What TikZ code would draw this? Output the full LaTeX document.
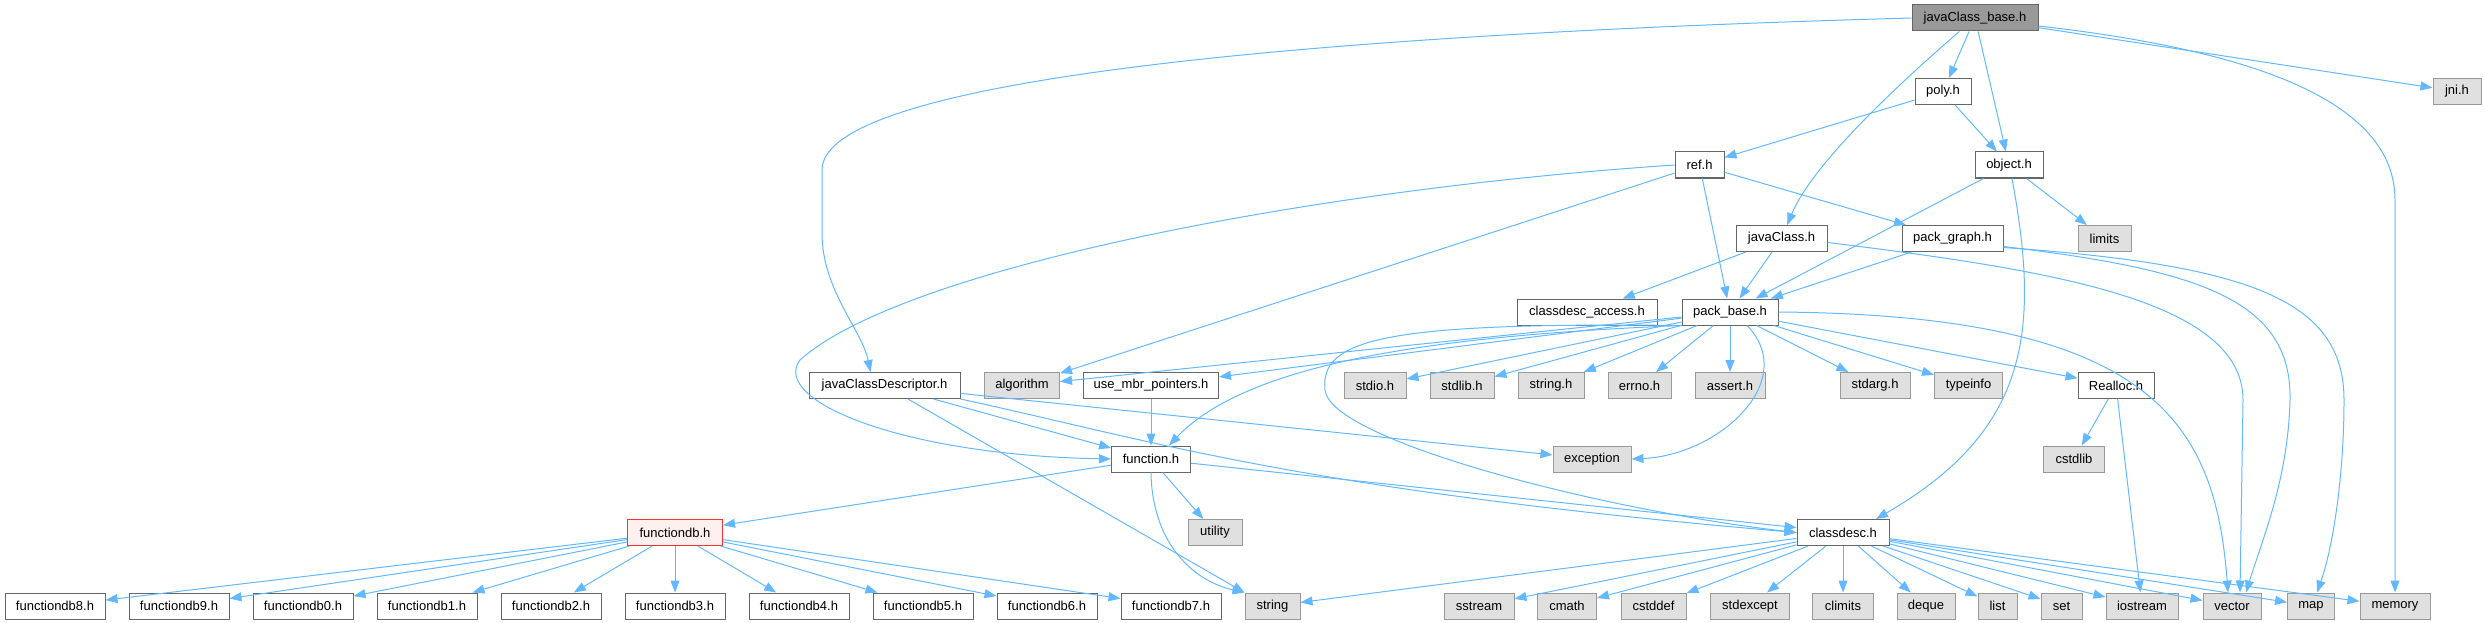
\documentclass[tikz,border=0pt]{standalone}
\usepackage{fontspec}
\setmainfont{Liberation Sans}
\usetikzlibrary{arrows.meta}
\definecolor{edgeblue}{HTML}{63B8FF}
\definecolor{boxgray}{HTML}{666666}
\definecolor{sysgray}{HTML}{999999}
\definecolor{sysfill}{HTML}{E0E0E0}
\definecolor{rootfill}{HTML}{999999}
\definecolor{redline}{HTML}{FF3030}
\definecolor{redfill}{HTML}{FFF0F0}
\tikzset{
	filebox/.style={draw=boxgray, fill=white, line width=1pt, inner sep=0pt,
		minimum height=26pt, font=\fontsize{13}{15}\selectfont},
	sysbox/.style={filebox, draw=sysgray, fill=sysfill},
	rootbox/.style={filebox, fill=rootfill},
	redbox/.style={filebox, draw=redline, fill=redfill},
	incl/.style={draw=edgeblue, line width=1pt, -{Triangle[length=12pt,width=9pt]}}
}
\begin{document}
\begin{tikzpicture}[x=1pt,y=-1pt]
	\useasboundingbox (0,0) rectangle (2485,623);
	% top rows
	\node[rootbox, minimum width=126pt] (base) at (1975,18) {javaClass\_base.h};
	\node[filebox, minimum width=56pt] (poly) at (1943,91.5) {poly.h};
	\node[sysbox, minimum width=48pt] (jni) at (2457,91.5) {jni.h};
	\node[filebox, minimum width=49pt] (ref) at (1699.5,165) {ref.h};
	\node[filebox, minimum width=68pt] (object) at (2009,165) {object.h};
	\node[filebox, minimum width=91pt] (javaClass) at (1781.5,238.5) {javaClass.h};
	\node[filebox, minimum width=101pt] (packgraph) at (1952.5,238.5) {pack\_graph.h};
	\node[sysbox, minimum width=53pt] (limits) at (2104.5,238.5) {limits};
	\node[filebox, minimum width=140pt] (cdaccess) at (1587,312) {classdesc\_access.h};
	\node[filebox, minimum width=96pt] (packbase) at (1730,312) {pack\_base.h};
	% row of pack_base includes
	\node[filebox, minimum width=151pt] (jcdesc) at (884.5,385.5) {javaClassDescriptor.h};
	\node[sysbox, minimum width=75pt] (algorithm) at (1022,385.5) {algorithm};
	\node[filebox, minimum width=135pt] (usembr) at (1151,385.5) {use\_mbr\_pointers.h};
	\node[sysbox, minimum width=62pt] (stdio) at (1375,385.5) {stdio.h};
	\node[sysbox, minimum width=64pt] (stdlibh) at (1462,385.5) {stdlib.h};
	\node[sysbox, minimum width=66pt] (stringh) at (1551,385.5) {string.h};
	\node[sysbox, minimum width=63pt] (errno) at (1639.5,385.5) {errno.h};
	\node[sysbox, minimum width=70pt] (assert) at (1730,385.5) {assert.h};
	\node[sysbox, minimum width=70pt] (stdarg) at (1875,385.5) {stdarg.h};
	\node[sysbox, minimum width=68pt] (typeinfo) at (1968.5,385.5) {typeinfo};
	\node[filebox, minimum width=76pt] (realloc) at (2116,385.5) {Realloc.h};
	% middle rows
	\node[filebox, minimum width=79pt] (function) at (1151,459) {function.h};
	\node[sysbox, minimum width=78pt] (exception) at (1592,459) {exception};
	\node[sysbox, minimum width=61pt] (cstdlib) at (2074,459) {cstdlib};
	\node[redbox, minimum width=95pt] (functiondb) at (675,532.5) {functiondb.h};
	\node[sysbox, minimum width=54pt] (utility) at (1215,532.5) {utility};
	\node[filebox, minimum width=92pt] (classdesc) at (1843,532.5) {classdesc.h};
	% bottom row
	\node[filebox, minimum width=100pt] (db8) at (55,606) {functiondb8.h};
	\node[filebox, minimum width=100pt] (db9) at (179,606) {functiondb9.h};
	\node[filebox, minimum width=100pt] (db0) at (303,606) {functiondb0.h};
	\node[filebox, minimum width=100pt] (db1) at (427,606) {functiondb1.h};
	\node[filebox, minimum width=100pt] (db2) at (551,606) {functiondb2.h};
	\node[filebox, minimum width=100pt] (db3) at (675,606) {functiondb3.h};
	\node[filebox, minimum width=100pt] (db4) at (799,606) {functiondb4.h};
	\node[filebox, minimum width=100pt] (db5) at (923,606) {functiondb5.h};
	\node[filebox, minimum width=100pt] (db6) at (1047,606) {functiondb6.h};
	\node[filebox, minimum width=100pt] (db7) at (1171,606) {functiondb7.h};
	\node[sysbox, minimum width=55pt] (string) at (1272.5,606) {string};
	\node[sysbox, minimum width=70pt] (sstream) at (1479,606) {sstream};
	\node[sysbox, minimum width=59pt] (cmath) at (1567,606) {cmath};
	\node[sysbox, minimum width=65pt] (cstddef) at (1653.5,606) {cstddef};
	\node[sysbox, minimum width=79pt] (stdexcept) at (1750,606) {stdexcept};
	\node[sysbox, minimum width=61pt] (climits) at (1843,606) {climits};
	\node[sysbox, minimum width=58pt] (deque) at (1926,606) {deque};
	\node[sysbox, minimum width=39pt] (list) at (1997.5,606) {list};
	\node[sysbox, minimum width=41pt] (set) at (2061.5,606) {set};
	\node[sysbox, minimum width=72pt] (iostream) at (2142,606) {iostream};
	\node[sysbox, minimum width=58pt] (vector) at (2232,606) {vector};
	\node[sysbox, minimum width=47pt] (map) at (2311,606) {map};
	\node[sysbox, minimum width=70pt] (memory) at (2395,606) {memory};
	
	% javaClass_base.h
	\draw[incl] (base.west) .. controls (1300,35) and (822,80) .. (822,170) -- (822,233) .. controls (822,290) and (862,330) .. ([xshift=-14pt]jcdesc.north);
	\draw[incl] (base) .. controls (1880,100) and (1810,170) .. (javaClass);
	\draw[incl] (base) -- (poly);
	\draw[incl] (base) -- (object);
	\draw[incl] (base) -- (jni);
	\draw[incl] ([yshift=-8pt]base.east) .. controls (2250,50) and (2395,100) .. (2395,200) -- (memory.north);
	% poly.h, ref.h, object.h
	\draw[incl] (poly) -- (ref);
	\draw[incl] (poly) -- (object);
	\draw[incl] (ref.west) .. controls (1300,190) and (900,270) .. (800,360) .. controls (770,400) and (900,455) .. (function.west);
	\draw[incl] (ref) -- (algorithm);
	\draw[incl] (ref) -- (packbase);
	\draw[incl] (ref) -- (packgraph);
	\draw[incl] (object) -- (packbase);
	\draw[incl] ([xshift=3pt]object.south) .. controls (2040,330) and (2030,430) .. ([xshift=33pt]classdesc.north);
	\draw[incl] (object) -- (limits);
	% javaClass.h, pack_graph.h
	\draw[incl] (javaClass) -- (cdaccess);
	\draw[incl] (javaClass) -- (packbase);
	\draw[incl] ([yshift=-4pt]javaClass.east) .. controls (2050,270) and (2243,300) .. (2243,400) -- ([xshift=8pt]vector.north);
	\draw[incl] (packgraph) -- (packbase);
	\draw[incl] ([yshift=-8pt]packgraph.east) .. controls (2200,270) and (2292,300) .. (2290,400) .. controls (2288,480) and (2262,540) .. ([xshift=14pt]vector.north);
	\draw[incl] ([yshift=-9pt]packgraph.east) .. controls (2250,265) and (2344,300) .. (2344,400) .. controls (2344,480) and (2332,550) .. ([xshift=6pt]map.north);
	% pack_base.h
	\draw[incl] (packbase) -- (algorithm);
	\draw[incl] (packbase) -- (usembr);
	\draw[incl] (packbase) -- (stdio);
	\draw[incl] (packbase) -- (stdlibh);
	\draw[incl] (packbase) -- (stringh);
	\draw[incl] (packbase) -- (errno);
	\draw[incl] (packbase) -- (assert);
	\draw[incl] (packbase) -- (stdarg);
	\draw[incl] (packbase) -- (typeinfo);
	\draw[incl] (packbase) -- (realloc);
	\draw[incl] (packbase.east) .. controls (2150,315) and (2215,420) .. ([xshift=-4pt]vector.north);
	\draw[incl] (packbase.south west) .. controls (1450,335) and (1250,360) .. ([xshift=18pt]function.north);
	\draw[incl] (packbase.south west) .. controls (1380,322) and (1320,340) .. (1325,390) .. controls (1330,440) and (1600,510) .. (classdesc.west);
	\draw[incl] ([xshift=17pt]packbase.south) .. controls (1800,380) and (1720,455) .. (exception.east);
	% javaClassDescriptor.h, use_mbr_pointers.h, Realloc.h
	\draw[incl] (jcdesc) -- (function);
	\draw[incl] (jcdesc.south east) .. controls (1150,440) and (1300,490) .. (classdesc.west);
	\draw[incl] (jcdesc) -- (exception);
	\draw[incl] (jcdesc) -- (string.north west);
	\draw[incl] (usembr) -- (function);
	\draw[incl] (realloc) -- (cstdlib);
	\draw[incl] (realloc) -- (iostream);
	% function.h
	\draw[incl] (function) -- (functiondb);
	\draw[incl] (function) -- (utility);
	\draw[incl] (function.south) .. controls (1152,540) and (1190,580) .. (string.north west);
	\draw[incl] (function) -- (classdesc);
	% functiondb.h
	\draw[incl] (functiondb) -- (db8);
	\draw[incl] (functiondb) -- (db9);
	\draw[incl] (functiondb) -- (db0);
	\draw[incl] (functiondb) -- (db1);
	\draw[incl] (functiondb) -- (db2);
	\draw[incl] (functiondb) -- (db3);
	\draw[incl] (functiondb) -- (db4);
	\draw[incl] (functiondb) -- (db5);
	\draw[incl] (functiondb) -- (db6);
	\draw[incl] (functiondb) -- (db7);
	% classdesc.h
	\draw[incl] (classdesc) -- (string);
	\draw[incl] (classdesc) -- (sstream);
	\draw[incl] (classdesc) -- (cmath);
	\draw[incl] (classdesc) -- (cstddef);
	\draw[incl] (classdesc) -- (stdexcept);
	\draw[incl] (classdesc) -- (climits);
	\draw[incl] (classdesc) -- (deque);
	\draw[incl] (classdesc) -- (list);
	\draw[incl] (classdesc) -- (set);
	\draw[incl] (classdesc) -- (iostream);
	\draw[incl] (classdesc) -- (vector);
	\draw[incl] (classdesc) -- (map);
	\draw[incl] (classdesc) -- (memory);
\end{tikzpicture}
\end{document}
